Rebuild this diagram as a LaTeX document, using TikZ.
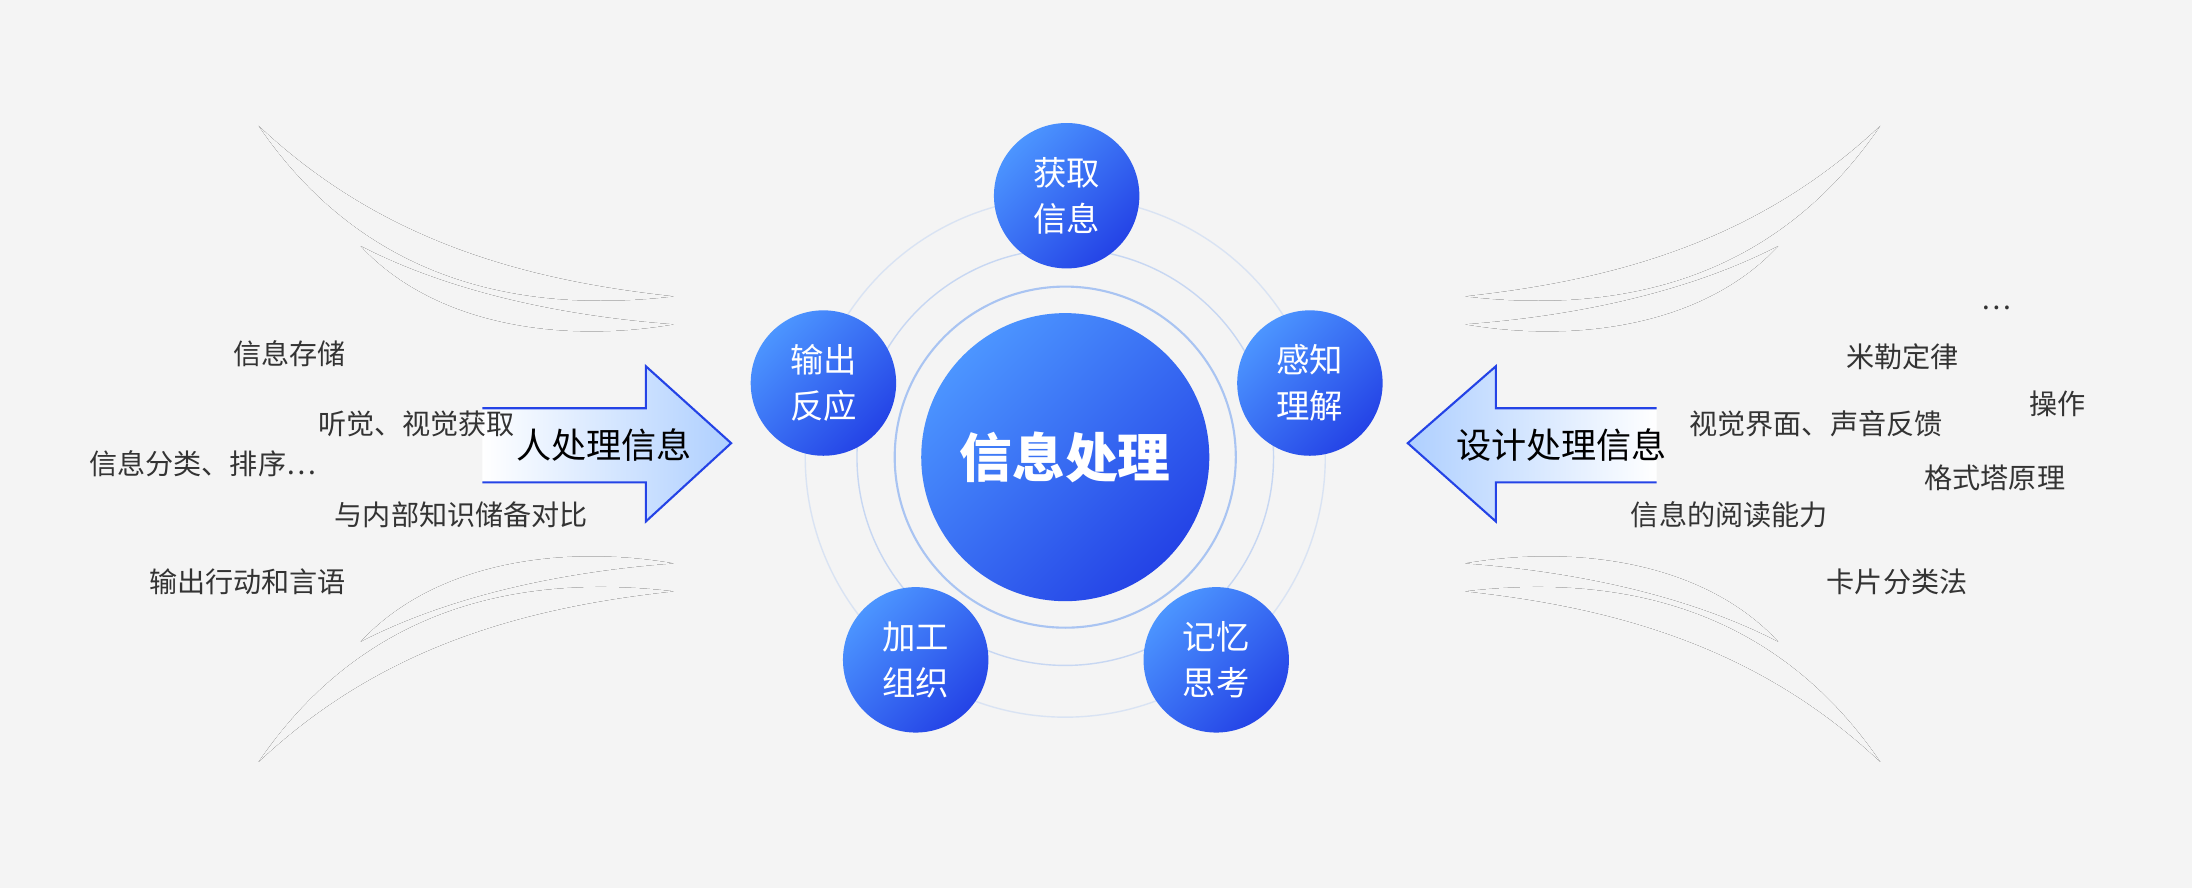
\documentclass[tikz,border=0pt]{standalone}
\usepackage{fontspec}
\setmainfont{Noto Sans CJK SC}
\usetikzlibrary{positioning}
\definecolor{bgc}{HTML}{F4F4F4}
\definecolor{blueA}{HTML}{4C95FF}
\definecolor{blueB}{HTML}{2443E6}
\definecolor{ringc}{HTML}{A9C4F2}
\definecolor{swoosh}{HTML}{6E9EF5}
\definecolor{txt}{HTML}{333333}
\tikzset{
  ball/.style={circle, inner sep=0pt, minimum size=1.454cm, align=center,
    text=white, font=\fontsize{9.5}{13}\selectfont,
    left color=blueA, right color=blueB, shading angle=45},
  note/.style={text=txt, font=\fontsize{8}{10}\selectfont},
  bigarrow/.style={draw=blueB, line width=0.6pt, left color=white, right color=blueA!45},
}
\begin{document}
\begin{tikzpicture}[x=0.01398cm, y=-0.01398cm]
\fill[bgc] (0,0) rectangle (1568,635);
\useasboundingbox (0,0) rectangle (1568,635);
% swooshes on both sides
\foreach \sx in {1,-1}{
  \foreach \sy in {1,-1}{
    \begin{scope}[shift={(765,317.5)}, xscale=\sx, yscale=\sy, shift={(-765,-317.5)}]
      \fill[left color=bgc, middle color=swoosh, right color=bgc]
        (185,90) .. controls (270,170) and (370,200) .. (482,212)
        .. controls (370,225) and (260,200) .. (185,90);
      \fill[left color=bgc, middle color=swoosh, right color=bgc]
        (258,176) .. controls (320,208) and (400,226) .. (482,232)
        .. controls (400,246) and (310,232) .. (258,176);
    \end{scope}
  }
}
% rings
\draw[ringc, opacity=0.35, line width=0.4pt] (762,327) circle (186);
\draw[ringc, opacity=0.6, line width=0.4pt] (762,327) circle (149);
\draw[ringc, line width=0.6pt] (762,327) circle (122);
% centre
\node[ball, minimum size=2.88cm, font=\fontsize{15}{18}\selectfont\bfseries] (core) at (762,327) {信息处理};
\node[ball] (get) at (763,140) {获取\\信息};
\node[ball] (sense) at (937,274) {感知\\理解};
\node[ball] (memo) at (870,472) {记忆\\思考};
\node[ball] (work) at (655,472) {加工\\组织};
\node[ball] (out) at (589,274) {输出\\反应};
% arrows
\draw[bigarrow] (345,292) -- (462,292) -- (462,262) -- (523,317) -- (462,373) -- (462,345) -- (345,345);
\node[font=\fontsize{10}{12}\selectfont, text=black] (human) at (432,318) {人处理信息};
\draw[bigarrow, left color=blueA!45, right color=white] (1185,292) -- (1070,292) -- (1070,262) -- (1007,317) -- (1070,373) -- (1070,345) -- (1185,345);
\node[font=\fontsize{10}{12}\selectfont, text=black] (design) at (1117,318) {设计处理信息};
% left notes
\node[note] (l1) at (207,253) {信息存储};
\node[note] (l2) at (298,303) {听觉、视觉获取};
\node[note] (l3) at (145,332) {信息分类、排序…};
\node[note] (l4) at (330,368) {与内部知识储备对比};
\node[note] (l5) at (177,416) {输出行动和言语};
% right notes
\node[note] (r0) at (1428,220) {…};
\node[note] (r1) at (1361,255) {米勒定律};
\node[note] (r2) at (1472,289) {操作};
\node[note] (r3) at (1299,303) {视觉界面、声音反馈};
\node[note] (r4) at (1427,342) {格式塔原理};
\node[note] (r5) at (1237,368) {信息的阅读能力};
\node[note] (r6) at (1357,416) {卡片分类法};
\end{tikzpicture}
\end{document}
